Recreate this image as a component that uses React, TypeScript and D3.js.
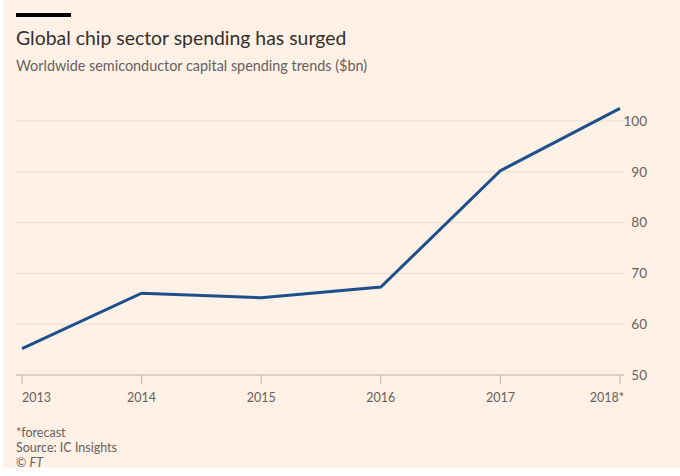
import React from "react";
import * as d3 from "d3";

const years = ["2013", "2014", "2015", "2016", "2017", "2018"];
const yearLabels = ["2013", "2014", "2015", "2016", "2017", "2018*"];
const spending = [55.2, 66.1, 65.2, 67.3, 90.2, 102.5];
const yTicks = [50, 60, 70, 80, 90, 100];

const title = "Global chip sector spending has surged";
const subtitle = "Worldwide semiconductor capital spending trends ($bn)";
const notes = ["*forecast", "Source: IC Insights"];

const W = 680;
const H = 476;
const FONT = "Lato, 'Open Sans', sans-serif";

export default function App() {
  const x = d3.scalePoint<string>().domain(years).range([22, 620]);
  const y = d3.scaleLinear().domain([50, 100]).range([375, 121]);
  const line = d3
    .line<number>()
    .x((_, i) => x(years[i]) as number)
    .y((d) => y(d));

  return (
    <div style={{ position: "fixed", left: 0, top: 0 }}>
      <svg width={W} height={H} style={{ display: "block" }}>
        <defs>
          <clipPath id="bgclip">
            <rect x={3} y={0} width={677} height={468} />
          </clipPath>
        </defs>
        <rect x={0} y={0} width={W} height={H} fill="#ffffff" />
        <g clipPath="url(#bgclip)">
          <rect x={3} y={0} width={677} height={468} fill="#fff1e5" />
          <rect x={16} y={13} width={55} height={4} fill="#000000" />
          <text x={16} y={45} fontFamily={FONT} fontSize={19.4} fill="#33302e">
            {title}
          </text>
          <text x={16} y={71} fontFamily={FONT} fontSize={14.4} fill="#66605c">
            {subtitle}
          </text>

          {yTicks.map((t) => (
            <g key={t}>
              {t !== 50 && (
                <line x1={16} x2={624} y1={y(t)} y2={y(t)} stroke="#e9ddd2" strokeWidth={1} />
              )}
              <text
                x={647}
                y={y(t)}
                dy="0.35em"
                textAnchor="end"
                fontFamily={FONT}
                fontSize={13.5}
                fill="#66605c"
              >
                {t}
              </text>
            </g>
          ))}

          <line x1={16} x2={624} y1={375} y2={375} stroke="#bdb3aa" strokeWidth={1} />
          {years.map((yr, i) => {
            const px = x(yr) as number;
            const anchor = i === 0 ? "start" : i === years.length - 1 ? "end" : "middle";
            const lx = i === years.length - 1 ? px + 4 : px;
            return (
              <g key={yr}>
                <line x1={px} x2={px} y1={375} y2={384} stroke="#bdb3aa" strokeWidth={1} />
                <text
                  x={lx}
                  y={402}
                  textAnchor={anchor}
                  fontFamily={FONT}
                  fontSize={12.5}
                  fill="#66605c"
                >
                  {yearLabels[i]}
                </text>
              </g>
            );
          })}

          <path
            d={line(spending) || ""}
            fill="none"
            stroke="#1d4f8c"
            strokeWidth={3}
            strokeLinejoin="miter"
          />

          {notes.map((n, i) => (
            <text key={n} x={16} y={437 + i * 15} fontFamily={FONT} fontSize={12.5} fill="#66605c">
              {n}
            </text>
          ))}
          <text x={16} y={467} fontFamily={FONT} fontSize={12.5} fill="#66605c">
            ©{" "}
            <tspan fontStyle="italic">FT</tspan>
          </text>
        </g>
      </svg>
    </div>
  );
}
